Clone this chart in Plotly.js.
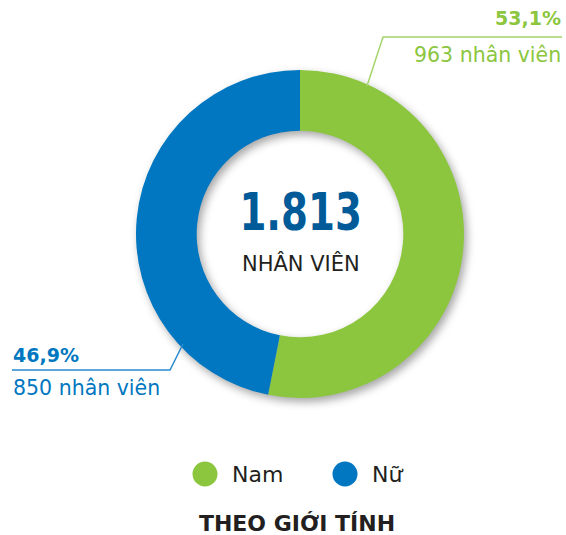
<!DOCTYPE html>
<html><head><meta charset="utf-8">
<script src="https://cdn.plot.ly/plotly-3.0.1.min.js"></script>
<style>
html,body{margin:0;padding:0;background:#fff}
#chart{width:566px;height:535px}
.pielayer{filter:drop-shadow(3px 4px 4px rgba(0,0,0,0.35));}
.narrow-total{transform-box:fill-box;transform-origin:center;transform:scaleX(0.76);}
</style></head><body><div id="chart"></div>
<script>
const categories = ["Nam", "Nữ"];
const values = [963, 850];
const colors = ["#8cc63f", "#0077c0"];
const unitLabel = "nhân viên";
const centerLabel = "NHÂN VIÊN";
const chartTitle = "THEO GIỚI TÍNH";

const W = 566, H = 535;
const px = v => v / W;
const py = v => 1 - v / H;
const fmtInt = n => String(n).replace(/\B(?=(\d{3})+(?!\d))/g, ".");
const fmtPct = p => p.toFixed(1).replace(".", ",") + "%";

const total = values.reduce((a, b) => a + b, 0);
const pcts = values.map(v => v / total * 100);

const cx = 300, cy = 234, R = 164;
const domain = {x: [px(cx - R), px(cx + R)], y: [py(cy + R), py(cy - R)]};

const data = [{
  type: "pie",
  labels: categories,
  values: values,
  marker: {colors: colors, line: {width: 0}},
  hole: 0.63,
  sort: false,
  direction: "clockwise",
  rotation: 0,
  textinfo: "none",
  hoverinfo: "label+value+percent",
  showlegend: false,
  domain: domain
}];

const bold = "DejaVu Sans, sans-serif";
const reg = "DejaVu Sans, sans-serif";
const darkText = "#231f20";

const labelPos = [
  {x: 563, yp: 18, yc: 55, anchor: "right"},
  {x: 11, yp: 355, yc: 388, anchor: "left"}
];
const leaderPaths = [
  [[562, 37], [383, 37], [367, 86]],
  [[12, 370], [170, 370], [183, 344]]
];
const lineColors = ["#a4d46c", "#2a8ad0"];

const annotations = [];
const shapes = [];
categories.forEach((c, i) => {
  const p = labelPos[i];
  annotations.push({
    text: "<b>" + fmtPct(pcts[i]) + "</b>", x: px(p.x), y: py(p.yp),
    xref: "paper", yref: "paper", xanchor: p.anchor, yanchor: "middle", showarrow: false,
    font: {family: bold, size: 19, color: colors[i]}
  });
  annotations.push({
    text: values[i] + " " + unitLabel, x: px(p.x), y: py(p.yc),
    xref: "paper", yref: "paper", xanchor: p.anchor, yanchor: "middle", showarrow: false,
    font: {family: reg, size: 20.5, color: colors[i]}
  });
  const pts = leaderPaths[i];
  shapes.push({
    type: "path", xref: "paper", yref: "paper",
    path: pts.map((q, k) => (k ? "L" : "M") + px(q[0]) + "," + py(q[1])).join(" "),
    line: {color: lineColors[i], width: 1.5}
  });
});

const totalAnnIndex = annotations.length;
annotations.push({
  text: "<b>" + fmtInt(total) + "</b>", x: px(cx), y: py(212),
  xref: "paper", yref: "paper", xanchor: "center", yanchor: "middle", showarrow: false,
  font: {family: "DejaVu Sans, sans-serif", size: 51, color: "#005b98"}
});
annotations.push({
  text: centerLabel, x: px(cx + 1), y: py(264),
  xref: "paper", yref: "paper", xanchor: "center", yanchor: "middle", showarrow: false,
  font: {family: reg, size: 21, color: darkText}
});

const legendX = [205, 345];
const legendY = 474;
categories.forEach((c, i) => {
  shapes.push({
    type: "circle", xref: "paper", yref: "paper",
    x0: px(legendX[i] - 12.5), x1: px(legendX[i] + 12.5),
    y0: py(legendY + 12.5), y1: py(legendY - 12.5),
    fillcolor: colors[i], line: {width: 0}
  });
  annotations.push({
    text: c, x: px(legendX[i] + 25), y: py(legendY),
    xref: "paper", yref: "paper", xanchor: "left", yanchor: "middle", showarrow: false,
    font: {family: reg, size: 22, color: darkText}
  });
});

const layout = {
  width: W, height: H,
  margin: {l: 0, r: 0, t: 0, b: 0},
  paper_bgcolor: "#ffffff",
  plot_bgcolor: "#ffffff",
  title: {
    text: "<b>" + chartTitle + "</b>",
    x: px(297), xanchor: "center", y: 1 - 523 / H, yanchor: "middle",
    font: {family: bold, size: 22, color: darkText}
  },
  annotations: annotations,
  shapes: shapes,
  showlegend: false
};

Plotly.newPlot("chart", data, layout, {displayModeBar: false, staticPlot: true}).then(gd => {
  const t = gd.querySelector('.annotation[data-index="' + totalAnnIndex + '"] text.annotation-text');
  if (t) t.classList.add("narrow-total");
});
</script></body></html>
